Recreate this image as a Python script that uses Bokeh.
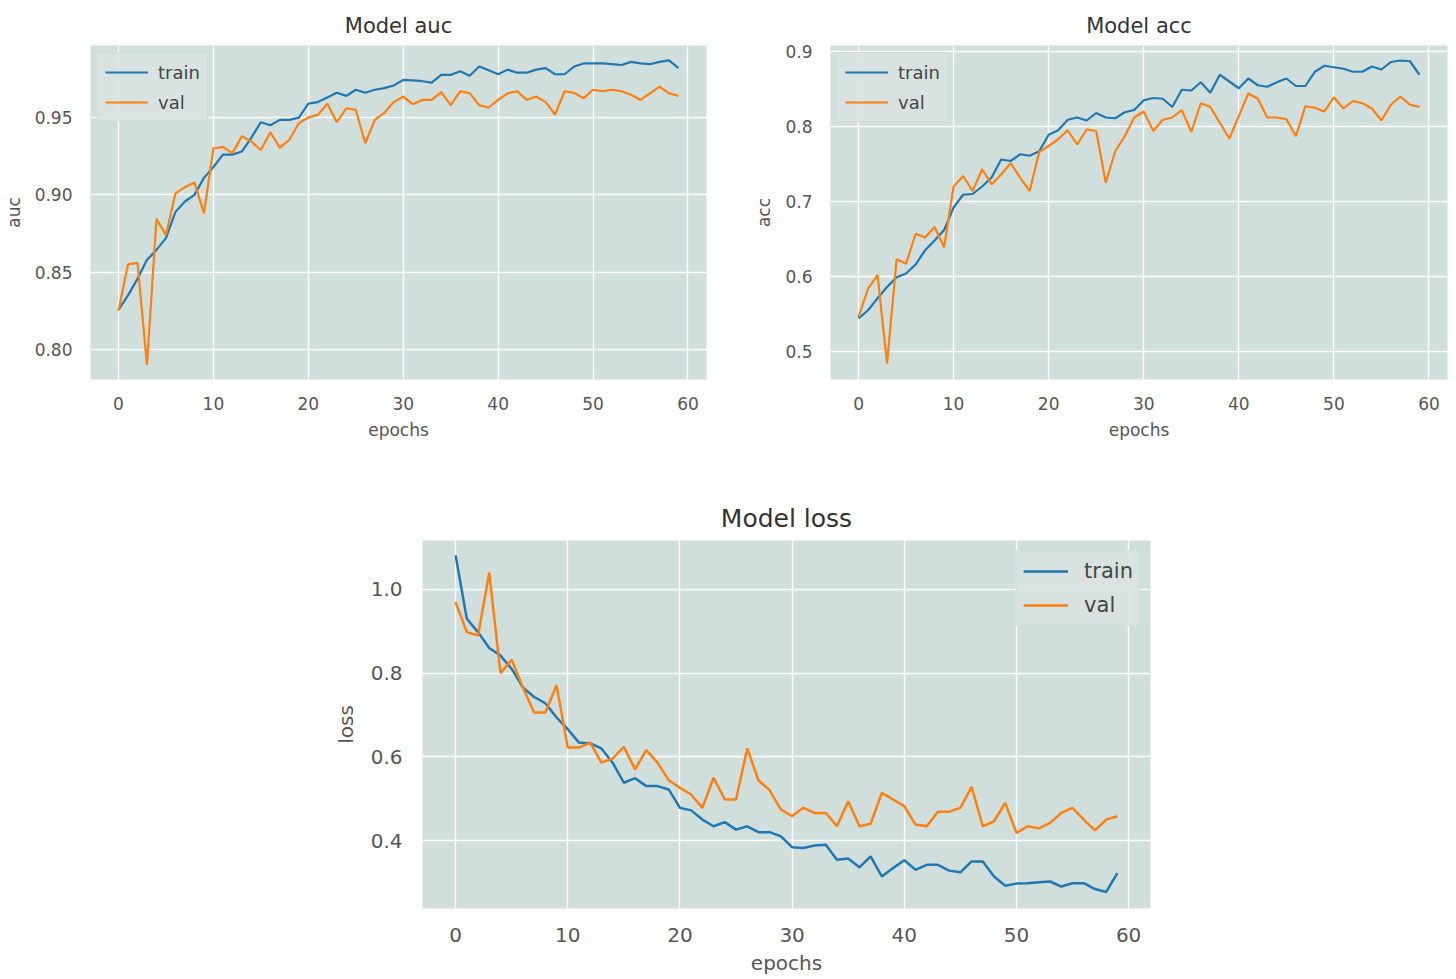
from bokeh.plotting import figure
from bokeh.models import Range1d, FixedTicker, Legend, LegendItem, Spacer, PrintfTickFormatter
from bokeh.layouts import column, row
from bokeh.embed import file_html
from bokeh.resources import INLINE

epochs = list(range(60))

auc_train = [0.8256, 0.835, 0.8457, 0.858, 0.8644, 0.872, 0.889, 0.8957, 0.900, 0.911,
             0.918, 0.926, 0.926, 0.928, 0.937, 0.947, 0.945, 0.9485, 0.9485, 0.950,
             0.959, 0.960, 0.963, 0.966, 0.964, 0.968, 0.966, 0.968, 0.969, 0.9707,
             0.9744, 0.974, 0.9735, 0.9726, 0.9776, 0.9776, 0.980, 0.977, 0.983, 0.9806,
             0.978, 0.981, 0.979, 0.979, 0.981, 0.982, 0.978, 0.978, 0.983, 0.985,
             0.985, 0.985, 0.9845, 0.984, 0.986, 0.985, 0.9845, 0.986, 0.987, 0.982]
auc_val = [0.825, 0.855, 0.856, 0.790, 0.8845, 0.874, 0.901, 0.905, 0.908, 0.888,
           0.930, 0.931, 0.927, 0.938, 0.9345, 0.929, 0.9405, 0.9306, 0.9356, 0.9463,
           0.950, 0.9517, 0.959, 0.947, 0.956, 0.955, 0.9334, 0.9485, 0.953, 0.960,
           0.9636, 0.9586, 0.9614, 0.9614, 0.9664, 0.958, 0.967, 0.9657, 0.958, 0.9565,
           0.9614, 0.9657, 0.967, 0.9614, 0.9636, 0.960, 0.952, 0.967, 0.966, 0.9625,
           0.968, 0.967, 0.968, 0.967, 0.9647, 0.9614, 0.9657, 0.970, 0.9657, 0.964]

acc_train = [0.544, 0.555, 0.571, 0.586, 0.599, 0.604, 0.616, 0.635, 0.648, 0.662,
             0.692, 0.709, 0.710, 0.720, 0.732, 0.756, 0.754, 0.763, 0.761, 0.767,
             0.789, 0.795, 0.809, 0.812, 0.808, 0.818, 0.812, 0.811, 0.819, 0.822,
             0.835, 0.838, 0.837, 0.826, 0.849, 0.848, 0.859, 0.845, 0.869, 0.860,
             0.851, 0.864, 0.855, 0.853, 0.859, 0.864, 0.854, 0.854, 0.873, 0.881,
             0.879, 0.877, 0.873, 0.873, 0.880, 0.876, 0.886, 0.888, 0.887, 0.869]
acc_val = [0.546, 0.584, 0.602, 0.484, 0.623, 0.617, 0.657, 0.652, 0.666, 0.639,
           0.720, 0.734, 0.714, 0.743, 0.723, 0.736, 0.751, 0.732, 0.714, 0.766,
           0.774, 0.783, 0.795, 0.776, 0.796, 0.794, 0.725, 0.767, 0.787, 0.812,
           0.820, 0.794, 0.809, 0.812, 0.822, 0.793, 0.831, 0.826, 0.805, 0.784,
           0.814, 0.844, 0.837, 0.812, 0.812, 0.810, 0.787, 0.827, 0.825, 0.820,
           0.839, 0.824, 0.834, 0.831, 0.824, 0.808, 0.829, 0.840, 0.829, 0.826]

loss_train = [1.0815, 0.930, 0.898, 0.860, 0.842, 0.810, 0.766, 0.743, 0.728, 0.694,
              0.666, 0.634, 0.632, 0.620, 0.586, 0.538, 0.549, 0.530, 0.530, 0.522,
              0.478, 0.472, 0.450, 0.434, 0.444, 0.426, 0.434, 0.420, 0.420, 0.410,
              0.384, 0.382, 0.388, 0.390, 0.354, 0.357, 0.336, 0.362, 0.314, 0.334,
              0.353, 0.330, 0.342, 0.342, 0.328, 0.324, 0.350, 0.350, 0.314, 0.292,
              0.297, 0.298, 0.300, 0.302, 0.290, 0.298, 0.298, 0.284, 0.277, 0.322]
loss_val = [0.970, 0.898, 0.890, 1.040, 0.800, 0.832, 0.766, 0.706, 0.706, 0.771,
            0.622, 0.622, 0.634, 0.586, 0.596, 0.624, 0.570, 0.616, 0.586, 0.544,
            0.526, 0.510, 0.478, 0.550, 0.498, 0.498, 0.620, 0.544, 0.520, 0.474,
            0.458, 0.478, 0.466, 0.466, 0.434, 0.494, 0.434, 0.440, 0.514, 0.498,
            0.482, 0.438, 0.434, 0.469, 0.469, 0.478, 0.528, 0.434, 0.446, 0.490,
            0.418, 0.434, 0.429, 0.442, 0.466, 0.478, 0.450, 0.424, 0.450, 0.458]

x_ticks = [0, 10, 20, 30, 40, 50, 60]
auc_ticks = [0.80, 0.85, 0.90, 0.95]
acc_ticks = [0.5, 0.6, 0.7, 0.8, 0.9]
loss_ticks = [0.4, 0.6, 0.8, 1.0]

BG = "#d1dfdc"
TXT = "#555555"
FONT = "DejaVu Sans"
BLUE = "#1f77b4"
ORANGE = "#ff7f0e"


def make(title, ylabel, train, val, yr, yticks, fmt, w, h, bl, br, bt, bb, big, legend_loc):
    fs_tick = "20px" if big else "17px"
    fs_lab = "20px" if big else "17px"
    fs_title = "25px" if big else "21px"
    p = figure(width=w, height=h, output_backend="svg", toolbar_location=None,
               x_range=Range1d(-2.95, 61.95), y_range=Range1d(*yr),
               min_border_left=bl, min_border_right=br, min_border_top=bt,
               min_border_bottom=bb, background_fill_color=BG, border_fill_color="white",
               outline_line_color=None)
    p.title.text = title
    p.title.align = "center"
    p.title.text_font = FONT
    p.title.text_font_style = "normal"
    p.title.text_font_size = fs_title
    p.title.text_color = "#333333"
    p.title.standoff = 16 if big else 15
    p.xaxis.ticker = FixedTicker(ticks=x_ticks)
    p.yaxis.ticker = FixedTicker(ticks=yticks)
    p.yaxis.formatter = PrintfTickFormatter(format=fmt)
    p.xaxis.axis_label = "epochs"
    p.yaxis.axis_label = ylabel
    for ax in (p.xaxis[0], p.yaxis[0]):
        ax.axis_line_color = None
        ax.major_tick_line_color = None
        ax.minor_tick_line_color = None
        ax.major_label_text_font = FONT
        ax.major_label_text_font_size = fs_tick
        ax.major_label_text_color = TXT
        ax.axis_label_text_font = FONT
        ax.axis_label_text_font_size = fs_lab
        ax.axis_label_text_font_style = "normal"
        ax.axis_label_text_color = TXT
    p.xaxis.major_label_standoff = 13 if big else 11
    p.yaxis.major_label_standoff = 14 if big else 12
    p.xaxis.axis_label_standoff = 6 if big else 7
    p.yaxis.axis_label_standoff = 10 if big else 8
    p.grid.grid_line_color = "white"
    p.grid.grid_line_width = 1.4
    lw = 2.5 if big else 2.2
    r1 = p.line(epochs, train, line_color=BLUE, line_width=lw)
    r2 = p.line(epochs, val, line_color=ORANGE, line_width=lw)
    leg = Legend(items=[LegendItem(label="train", renderers=[r1]),
                        LegendItem(label="val", renderers=[r2])],
                 location=legend_loc)
    leg.background_fill_color = "#d8e3e1"
    leg.background_fill_alpha = 0.9
    leg.border_line_color = "#c8d2d0"
    leg.label_text_font = FONT
    leg.label_text_font_size = "21px" if big else "18px"
    leg.label_text_color = "#444444"
    leg.glyph_width = 45 if big else 43
    leg.glyph_height = 28 if big else 24
    leg.label_height = 28 if big else 24
    leg.label_standoff = 16 if big else 10
    leg.spacing = 6
    leg.padding = 6 if big else 7
    leg.margin = 10 if big else 7
    p.add_layout(leg)
    return p


p1 = make("Model auc", "auc", auc_train, auc_val, (0.7806, 0.9966), auc_ticks, "%.2f",
          740, 450, 90, 34, 45, 71, False, "top_left")
p2 = make("Model acc", "acc", acc_train, acc_val, (0.4627, 0.908), acc_ticks, "%.1f",
          716, 450, 90, 9, 45, 71, False, "top_left")
p3 = make("Model loss", "loss", loss_train, loss_val, (0.2375, 1.117), loss_ticks, "%.1f",
          850, 529, 92, 30, 90, 71, True, "top_right")

layout = column(row(p1, p2), row(Spacer(width=330, height=529), p3))

open("out.html", "w").write(file_html(layout, INLINE))
